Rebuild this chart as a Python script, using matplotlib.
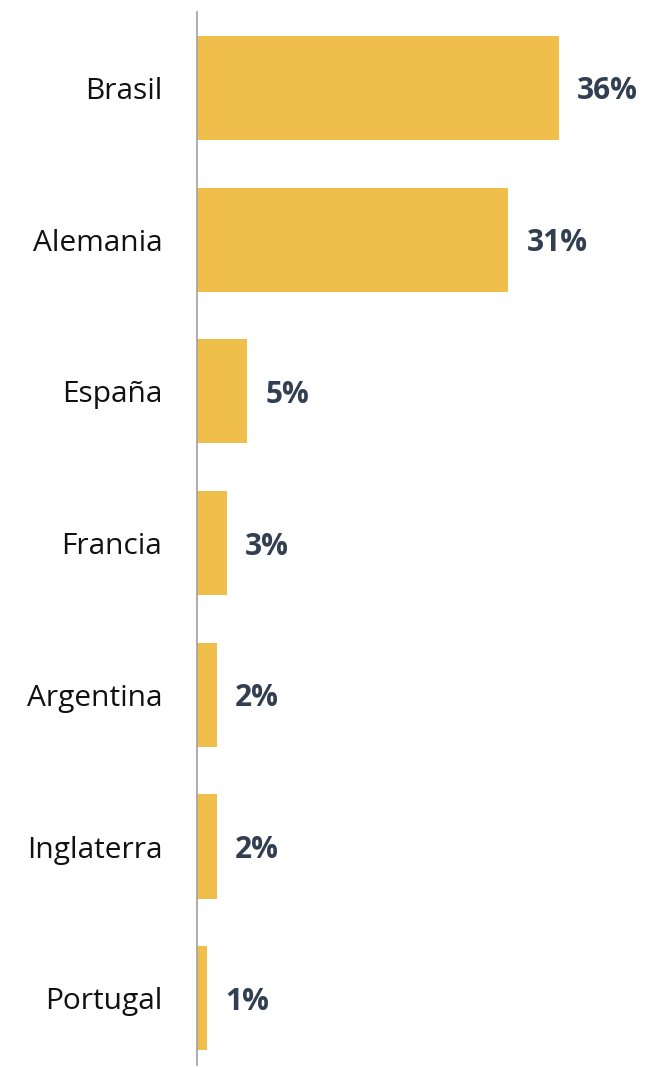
import matplotlib.pyplot as plt

paises = ['Brasil', 'Alemania', 'España', 'Francia', 'Argentina', 'Inglaterra', 'Portugal']
porcentajes = [36, 31, 5, 3, 2, 2, 1]

plt.rcParams['font.family'] = ['Open Sans', 'DejaVu Sans']

fig = plt.figure(figsize=(6.46, 10.67), dpi=100)
ax = fig.add_axes([197 / 646, 2 / 1067, 449 / 646, 1053 / 1067])

y = range(len(paises))
ax.barh(y, porcentajes, height=0.686, color='#F0BE4A')

# etiquetas de valores
for i, v in enumerate(porcentajes):
    ax.text(v + 1.8, i, f'{v}%', va='center_baseline', ha='left', fontsize=21.5,
            fontweight='bold', color='#323F52')

ax.set_yticks(list(y))
ax.set_yticklabels(paises, fontsize=21.5, color='#111111')
ax.tick_params(axis='y', length=0, pad=25)
ax.set_xticks([])
ax.set_xlim(0, 44.7)
ax.set_ylim(6.44, -0.5)

for s in ['top', 'right', 'bottom']:
    ax.spines[s].set_visible(False)
ax.spines['left'].set_color('#A0A0A0')
ax.spines['left'].set_linewidth(1.2)

fig.savefig('out.png', dpi=100)
